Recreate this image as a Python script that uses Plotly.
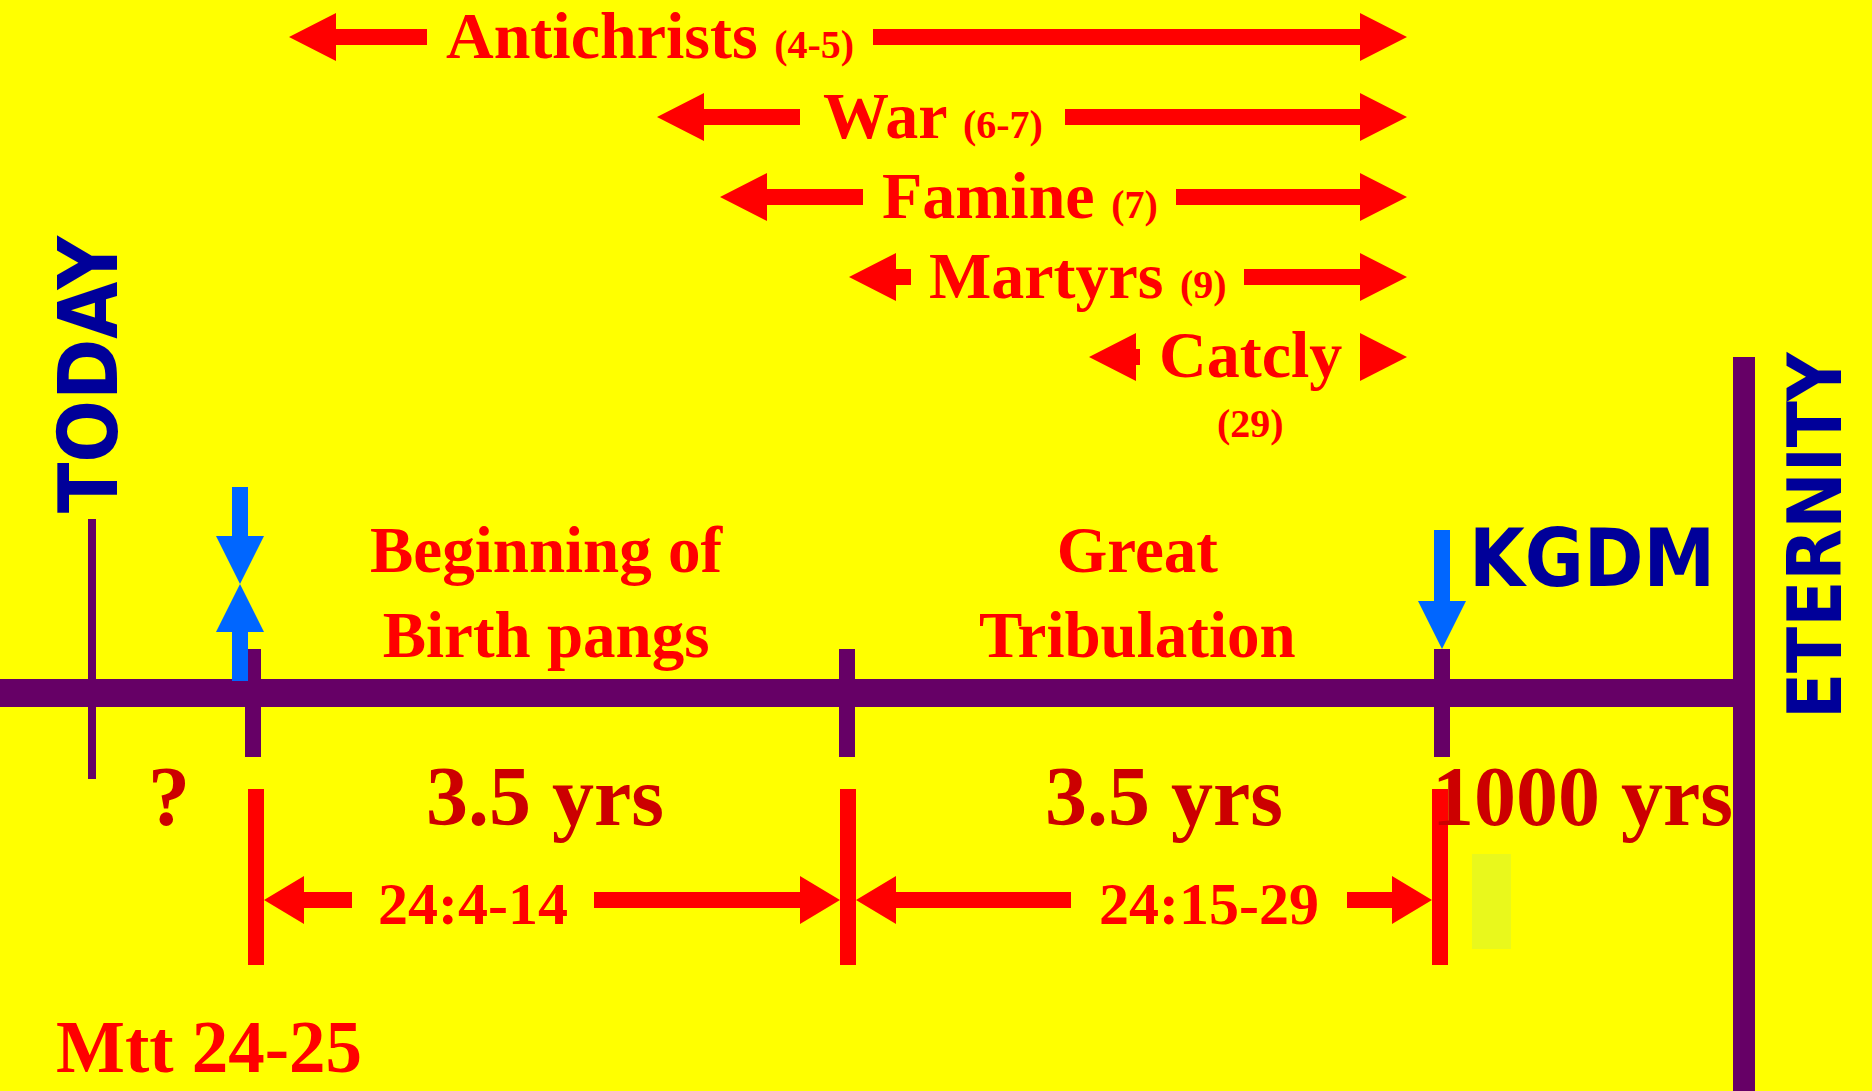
import plotly.graph_objects as go

W, H = 1872, 1091

# ---------------- data ----------------
# signs of the end (Matthew 24) shown as spans ending at the Second Coming
event_names = ["Antichrists", "War", "Famine", "Martyrs", "Catcly"]
event_refs = ["(4-5)", "(6-7)", "(7)", "(9)", "(29)"]
event_start = [289, 657, 720, 849, 1089]
event_end = [1407, 1407, 1407, 1407, 1407]
event_gap_left = [427, 800, 863, 911, 1140]
event_gap_right = [873, 1065, 1176, 1244, 1360]
event_row = [37, 117, 197, 277, 357]

# timeline milestones
milestones = [253, 847, 1442]
period_titles = ["Beginning of<br>Birth pangs", "Great<br>Tribulation"]
period_title_x = [547, 1137]
period_lengths = ["3.5 yrs", "3.5 yrs", "1000 yrs"]
period_length_x = [545, 1164, 1582]
verse_refs = ["24:4-14", "24:15-29"]
verse_start = [264, 856]
verse_end = [840, 1432]
verse_gap_left = [352, 1071]
verse_gap_right = [594, 1347]

today_x = 92
eternity_x = 1744

YELLOW = "#FFFF00"
RED = "#FF0000"
DARKRED = "#CC0000"
PURPLE = "#660066"
BLUE = "#0066FF"
NAVY = "#000099"
SERIF = "Liberation Serif, Times New Roman, serif"
HEAVY = "Impact, Liberation Sans Narrow, DejaVu Sans Condensed, Arial Narrow, sans-serif"

fig = go.Figure()


def poly(xs, ys, color):
    fig.add_trace(go.Scatter(x=xs + [xs[0]], y=ys + [ys[0]], mode="lines", fill="toself",
                             fillcolor=color, line=dict(width=0, color=color),
                             hoverinfo="skip", showlegend=False))


def left_arrow(tip, end, y, t, hl, hh, color=RED):
    b = tip + hl
    poly([tip, b, b, end, end, b, b], [y, y - hh, y - t / 2, y - t / 2, y + t / 2, y + t / 2, y + hh], color)


def right_arrow(start, tip, y, t, hl, hh, color=RED):
    b = tip - hl
    if start >= b:
        poly([tip, b, b], [y, y - hh, y + hh], color)
    else:
        poly([tip, b, b, start, start, b, b], [y, y - hh, y - t / 2, y - t / 2, y + t / 2, y + t / 2, y + hh], color)


def down_arrow(x, top, tip, t, hl, hh, color=BLUE):
    b = tip - hl
    poly([x, x + hh, x + t / 2, x + t / 2, x - t / 2, x - t / 2, x - hh], [tip, b, b, top, top, b, b], color)


def up_arrow(x, tip, bottom, t, hl, hh, color=BLUE):
    b = tip + hl
    poly([x, x + hh, x + t / 2, x + t / 2, x - t / 2, x - t / 2, x - hh], [tip, b, b, bottom, bottom, b, b], color)


shapes = []


def rect(x0, y0, x1, y1, color):
    shapes.append(dict(type="rect", xref="x", yref="y", x0=x0, x1=x1, y0=y0, y1=y1,
                       fillcolor=color, line=dict(width=0), layer="below"))


annotations = []


def text(x, y, s, size, color, family=SERIF, angle=0, xanchor="center", yanchor="middle"):
    annotations.append(dict(x=x, y=y, xref="x", yref="y", text=s, showarrow=False,
                            font=dict(family=family, size=size, color=color),
                            textangle=angle, xanchor=xanchor, yanchor=yanchor))


# ---- timeline structure ----
rect(0, 679, eternity_x, 707, PURPLE)                     # main bar
rect(eternity_x - 11, 357, eternity_x + 11, H, PURPLE)    # eternity wall
rect(today_x - 4, 519, today_x + 4, 779, PURPLE)          # today line
for mx in milestones:
    rect(mx - 8, 649, mx + 8, 757, PURPLE)
for mx in [256, 848, 1440]:
    rect(mx - 8, 789, mx + 8, 965, RED)
rect(1472, 854, 1511, 949, "#E9F81C")

# ---- sign arrows (top) ----
for i, name in enumerate(event_names):
    y = event_row[i]
    left_arrow(event_start[i], event_gap_left[i], y, 16, 47, 24)
    right_arrow(event_gap_right[i], event_end[i], y, 16, 47, 24)
    cx = (event_gap_left[i] + event_gap_right[i]) / 2
    if name == "Catcly":
        text(cx, y - 3, f"<b>{name}</b>", 66, RED)
        text(cx, y + 66, f"<b>{event_refs[i]}</b>", 40, RED)
    else:
        text(cx, y - 2, f"<b>{name} <span style='font-size:40px'>{event_refs[i]}</span></b>", 66, RED)

# ---- verse arrows (bottom) ----
for i, v in enumerate(verse_refs):
    left_arrow(verse_start[i], verse_gap_left[i], 900, 16, 40, 24)
    right_arrow(verse_gap_right[i], verse_end[i], 900, 16, 40, 24)
    cx = (verse_gap_left[i] + verse_gap_right[i]) / 2
    text(cx, 904, f"<b>{v}</b>", 60, RED)

# ---- blue markers ----
down_arrow(240, 487, 584, 16, 48, 24)
up_arrow(240, 584, 681, 16, 48, 24)
down_arrow(1442, 530, 649, 16, 48, 24)

# ---- labels ----
for i, t in enumerate(period_titles):
    text(period_title_x[i], 592, f"<b>{t}</b>", 65, RED)
for i, t in enumerate(period_lengths):
    text(period_length_x[i], 796, f"<b>{t}</b>", 84, DARKRED)
text(169, 796, "<b>?</b>", 84, DARKRED)
text(209, 1047, "<b>Mtt 24-25</b>", 73, RED)
text(1592, 558, "<b>KGDM</b>", 80, NAVY, family=HEAVY)
text(88, 374, "<b>TODAY</b>", 82, NAVY, family=HEAVY, angle=-90)
text(1815, 535, "<b>ETERNITY</b>", 75, NAVY, family=HEAVY, angle=-90)

fig.update_layout(
    width=W, height=H,
    margin=dict(l=0, r=0, t=0, b=0),
    paper_bgcolor=YELLOW, plot_bgcolor=YELLOW,
    xaxis=dict(range=[0, W], visible=False, fixedrange=True),
    yaxis=dict(range=[H, 0], visible=False, fixedrange=True),
    shapes=shapes, annotations=annotations,
    showlegend=False,
)
fig.write_html("out.html", config={"displayModeBar": False},
               post_script="document.body.style.margin='0';document.body.style.overflow='hidden';")
